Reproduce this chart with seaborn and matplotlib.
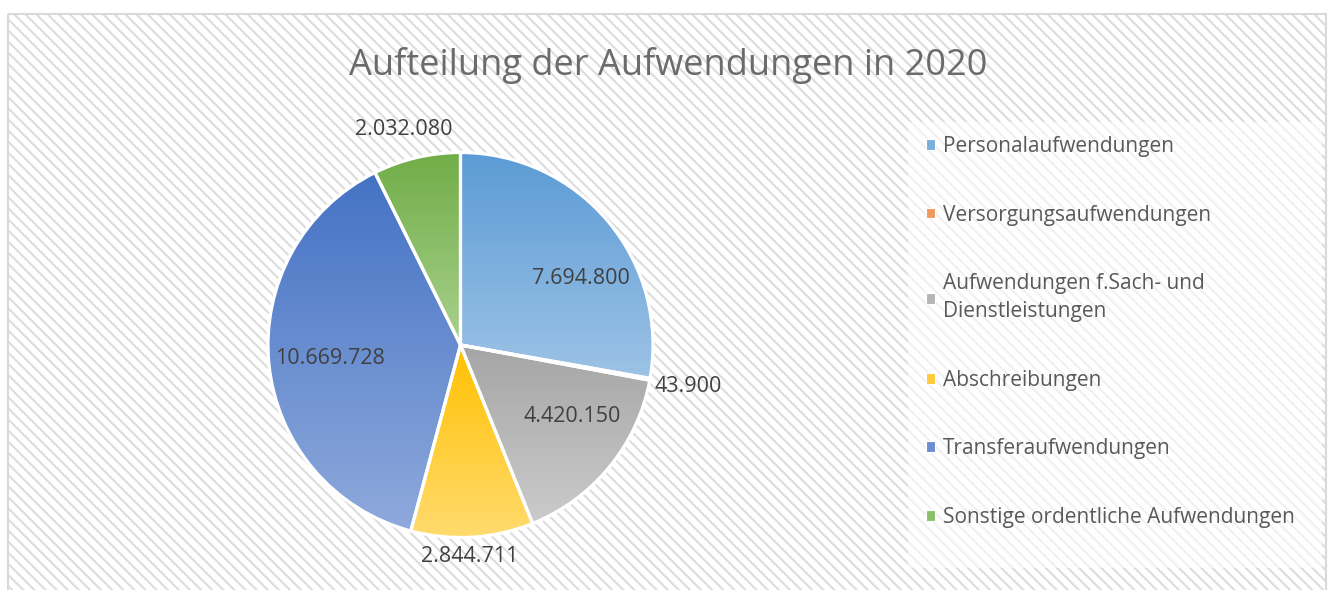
import numpy as np
import matplotlib
matplotlib.use("Agg")
import matplotlib.pyplot as plt
from matplotlib.colors import LinearSegmentedColormap
from matplotlib.patches import Rectangle, Patch
import seaborn as sns

# ---- data ----
title = "Aufteilung der Aufwendungen in 2020"
categories = [
    "Personalaufwendungen",
    "Versorgungsaufwendungen",
    "Aufwendungen f.Sach- und\nDienstleistungen",
    "Abschreibungen",
    "Transferaufwendungen",
    "Sonstige ordentliche Aufwendungen",
]
values = [7694800, 43900, 4420150, 2844711, 10669728, 2032080]

# ---- style ----
top_colors = ["#5B9BD5", "#ED7D31", "#A5A5A5", "#FFC000", "#4472C4", "#70AD47"]
bottom_colors = ["#9DC3E6", "#F4B183", "#CBCBCB", "#FFDB6E", "#8FAADC", "#A9D18E"]
mid_colors = ["#7AAEDD", "#F09A5E", "#B5B5B5", "#FFCB3A", "#6A8ED0", "#8CBF6A"]
label_dist = [0.71, 1.20, 0.69, 1.10, 0.68, 1.16]
label_nudge = [(0.08, -0.11), (0.0, 0.0), (0.045, 0.065), (-0.02, 0.0), (0.0, 0.0), (-0.03, -0.01)]

sns.set_theme(style="white")
plt.rcParams["font.family"] = ["Open Sans", "DejaVu Sans"]
plt.rcParams["hatch.linewidth"] = 1.5

W, H = 1332, 590
fig = plt.figure(figsize=(W / 100, H / 100), dpi=100)
fig.patch.set_facecolor("white")

# background: hatched chart area with light border
bg = fig.add_axes([0, 0, 1, 1], zorder=0)
bg.set_xlim(0, W)
bg.set_ylim(H, 0)
bg.axis("off")
bg.add_patch(Rectangle((8, 14), 1318, 590, facecolor="white",
                       edgecolor="#DDDDDD", linewidth=0, hatch="\\\\\\"))
bg.add_patch(Rectangle((8, 14), 1318, 590, facecolor="none",
                       edgecolor="#D9D9D9", linewidth=1.5))
# legend panel
bg.add_patch(Rectangle((908, 122), 414, 446, facecolor="white",
                       edgecolor="none", alpha=0.6))

fig.text(668 / W, 1 - 66 / H, title, ha="center", va="center",
         fontsize=26, color="#6B6B6B")

# pie
ax = fig.add_axes([268 / W, 52.5 / H, 385 / W, 385 / H], zorder=2)
wedges, _ = ax.pie(values, startangle=90, counterclock=False, radius=1,
                   wedgeprops=dict(edgecolor="white", linewidth=2.3))
grad = np.linspace(0, 1, 256).reshape(-1, 1)
for w, ct, cb in zip(wedges, top_colors, bottom_colors):
    x0, y0, x1, y1 = w.get_path().get_extents().extents
    cmap = LinearSegmentedColormap.from_list("g", [cb, ct])
    im = ax.imshow(grad, cmap=cmap, extent=(x0, x1, y0, y1), origin="lower",
                   aspect="auto", zorder=1, interpolation="bilinear")
    im.set_clip_path(w)
    w.set_facecolor("none")
    w.set_zorder(2)

for w, v, d, (nx, ny) in zip(wedges, values, label_dist, label_nudge):
    ang = np.deg2rad((w.theta1 + w.theta2) / 2)
    ax.text(d * np.cos(ang) + nx, d * np.sin(ang) + ny, f"{v:,}".replace(",", "."),
            ha="center", va="center", fontsize=15.5, color="#404040", zorder=5)

ax.set_xlim(-1, 1)
ax.set_ylim(-1, 1)
ax.set_aspect("equal")
ax.axis("off")

handles = [Patch(facecolor=c, edgecolor="white", linewidth=0.8) for c in mid_colors]
leg = fig.legend(handles, categories, loc="upper left",
                 bbox_to_anchor=(926 / W, 1 - 136 / H), frameon=False,
                 fontsize=15, labelcolor="#595959", handlelength=0.42,
                 handleheight=0.42, handletextpad=0.4, labelspacing=2.28,
                 borderpad=0, borderaxespad=0)
for t in leg.get_texts():
    t.set_linespacing(1.45)
leg.set_zorder(3)

fig.savefig("out.png", dpi=100, facecolor="white")
